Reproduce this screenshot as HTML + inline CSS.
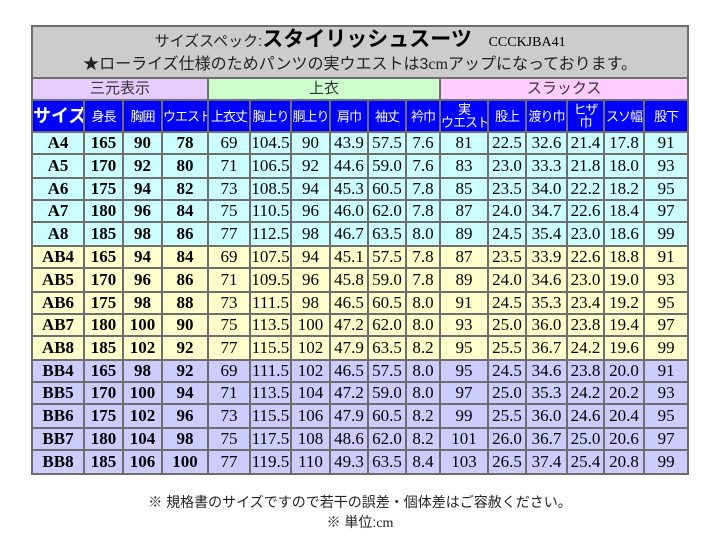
<!DOCTYPE html>
<html><head><meta charset="utf-8"><style>
body{margin:0;background:#fff;width:720px;height:557px;overflow:hidden;position:relative}
table{position:absolute;left:31px;top:25px;border-collapse:collapse;table-layout:fixed;width:656px}
td{border:2px solid #6e6e6e;padding:0;text-align:center;font-family:"Liberation Serif",serif;font-size:17px;color:#000;overflow:hidden;white-space:nowrap;line-height:18px}
.t{background:#ccc;font-family:"Liberation Sans","Noto Sans CJK JP",sans-serif;font-size:15px}
.g{font-family:"Liberation Sans","Noto Sans CJK JP",sans-serif;font-size:15px;color:#333}
.h td{background:#0000ff;color:#fff;font-family:"Liberation Sans","Noto Sans CJK JP",sans-serif;font-size:13px;line-height:13px;letter-spacing:-1px}
tr.d td{height:20px}
tr.d.x td{height:22px}
tr.d td:nth-child(-n+4){font-weight:bold}
.a td{background:#ccffff}.b td{background:#ffffcc}.c td{background:#ccccff}
.f{position:absolute;width:720px;text-align:center;font-family:"Liberation Sans","Noto Sans CJK JP",sans-serif;font-size:14px;color:#222}
</style></head><body>
<table>
<colgroup><col style="width:52px"><col style="width:39px"><col style="width:39px"><col style="width:46px"><col style="width:42px"><col style="width:41px"><col style="width:39px"><col style="width:38px"><col style="width:38px"><col style="width:34px"><col style="width:48px"><col style="width:38px"><col style="width:41px"><col style="width:37px"><col style="width:40px"><col style="width:44px"></colgroup>
<tr style="height:27px"><td colspan="16" class="t" style="border-bottom:0;padding-top:2px"><span style="color:#222">サイズスペック:</span><b style="font-size:21px">スタイリッシュスーツ</b>&nbsp;&nbsp;&nbsp;&nbsp;<span style="font-family:'Liberation Serif',serif;font-size:14px">CCCKJBA41</span></td></tr>
<tr style="height:25px"><td colspan="16" class="t" style="border-top:0;color:#222;font-size:16px">★ローライズ仕様のためパンツの実ウエストは3<span style="font-family:'Liberation Serif',serif">cm</span>アップになっております。</td></tr>
<tr style="height:22px"><td colspan="4" class="g" style="background:#e6ccff">三元表示</td><td colspan="6" class="g" style="background:#ccffcc">上衣</td><td colspan="6" class="g" style="background:#ffccff">スラックス</td></tr>
<tr class="h" style="height:32px"><td style="font-size:18px;font-weight:bold;letter-spacing:0">サイズ</td><td>身長</td><td>胸囲</td><td>ウエスト</td><td>上衣丈</td><td>胸上り</td><td>胴上り</td><td>肩巾</td><td>袖丈</td><td>衿巾</td><td>実<br>ウエスト</td><td>股上</td><td>渡り巾</td><td>ヒザ<br>巾</td><td>スソ幅</td><td>股下</td></tr>
<tr class="d a"><td>A4</td><td>165</td><td>90</td><td>78</td><td>69</td><td>104.5</td><td>90</td><td>43.9</td><td>57.5</td><td>7.6</td><td>81</td><td>22.5</td><td>32.6</td><td>21.4</td><td>17.8</td><td>91</td></tr>
<tr class="d a x"><td>A5</td><td>170</td><td>92</td><td>80</td><td>71</td><td>106.5</td><td>92</td><td>44.6</td><td>59.0</td><td>7.6</td><td>83</td><td>23.0</td><td>33.3</td><td>21.8</td><td>18.0</td><td>93</td></tr>
<tr class="d a"><td>A6</td><td>175</td><td>94</td><td>82</td><td>73</td><td>108.5</td><td>94</td><td>45.3</td><td>60.5</td><td>7.8</td><td>85</td><td>23.5</td><td>34.0</td><td>22.2</td><td>18.2</td><td>95</td></tr>
<tr class="d a"><td>A7</td><td>180</td><td>96</td><td>84</td><td>75</td><td>110.5</td><td>96</td><td>46.0</td><td>62.0</td><td>7.8</td><td>87</td><td>24.0</td><td>34.7</td><td>22.6</td><td>18.4</td><td>97</td></tr>
<tr class="d a x"><td>A8</td><td>185</td><td>98</td><td>86</td><td>77</td><td>112.5</td><td>98</td><td>46.7</td><td>63.5</td><td>8.0</td><td>89</td><td>24.5</td><td>35.4</td><td>23.0</td><td>18.6</td><td>99</td></tr>
<tr class="d b"><td>AB4</td><td>165</td><td>94</td><td>84</td><td>69</td><td>107.5</td><td>94</td><td>45.1</td><td>57.5</td><td>7.8</td><td>87</td><td>23.5</td><td>33.9</td><td>22.6</td><td>18.8</td><td>91</td></tr>
<tr class="d b x"><td>AB5</td><td>170</td><td>96</td><td>86</td><td>71</td><td>109.5</td><td>96</td><td>45.8</td><td>59.0</td><td>7.8</td><td>89</td><td>24.0</td><td>34.6</td><td>23.0</td><td>19.0</td><td>93</td></tr>
<tr class="d b"><td>AB6</td><td>175</td><td>98</td><td>88</td><td>73</td><td>111.5</td><td>98</td><td>46.5</td><td>60.5</td><td>8.0</td><td>91</td><td>24.5</td><td>35.3</td><td>23.4</td><td>19.2</td><td>95</td></tr>
<tr class="d b"><td>AB7</td><td>180</td><td>100</td><td>90</td><td>75</td><td>113.5</td><td>100</td><td>47.2</td><td>62.0</td><td>8.0</td><td>93</td><td>25.0</td><td>36.0</td><td>23.8</td><td>19.4</td><td>97</td></tr>
<tr class="d b x"><td>AB8</td><td>185</td><td>102</td><td>92</td><td>77</td><td>115.5</td><td>102</td><td>47.9</td><td>63.5</td><td>8.2</td><td>95</td><td>25.5</td><td>36.7</td><td>24.2</td><td>19.6</td><td>99</td></tr>
<tr class="d c"><td>BB4</td><td>165</td><td>98</td><td>92</td><td>69</td><td>111.5</td><td>102</td><td>46.5</td><td>57.5</td><td>8.0</td><td>95</td><td>24.5</td><td>34.6</td><td>23.8</td><td>20.0</td><td>91</td></tr>
<tr class="d c"><td>BB5</td><td>170</td><td>100</td><td>94</td><td>71</td><td>113.5</td><td>104</td><td>47.2</td><td>59.0</td><td>8.0</td><td>97</td><td>25.0</td><td>35.3</td><td>24.2</td><td>20.2</td><td>93</td></tr>
<tr class="d c x"><td>BB6</td><td>175</td><td>102</td><td>96</td><td>73</td><td>115.5</td><td>106</td><td>47.9</td><td>60.5</td><td>8.2</td><td>99</td><td>25.5</td><td>36.0</td><td>24.6</td><td>20.4</td><td>95</td></tr>
<tr class="d c"><td>BB7</td><td>180</td><td>104</td><td>98</td><td>75</td><td>117.5</td><td>108</td><td>48.6</td><td>62.0</td><td>8.2</td><td>101</td><td>26.0</td><td>36.7</td><td>25.0</td><td>20.6</td><td>97</td></tr>
<tr class="d c x"><td>BB8</td><td>185</td><td>106</td><td>100</td><td>77</td><td>119.5</td><td>110</td><td>49.3</td><td>63.5</td><td>8.4</td><td>103</td><td>26.5</td><td>37.4</td><td>25.4</td><td>20.8</td><td>99</td></tr>
</table>
<div class="f" style="top:492px">※ 規格書のサイズですので若干の誤差・個体差はご容赦ください。</div>
<div class="f" style="top:512px">※ 単位:<span style="font-family:'Liberation Serif',serif">cm</span></div>
</body></html>
